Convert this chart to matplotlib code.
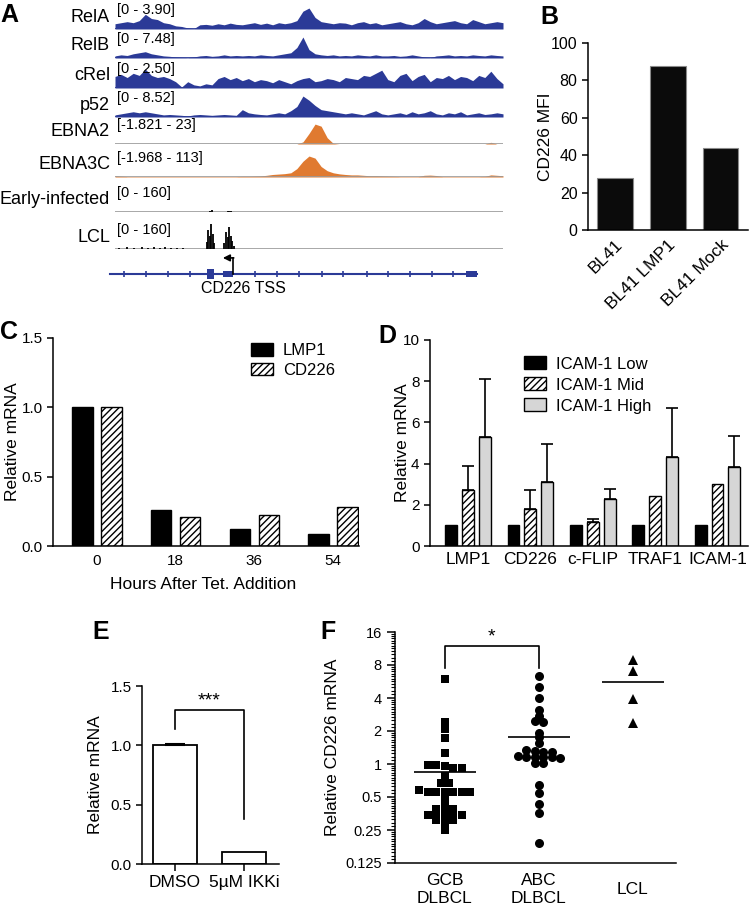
import numpy as np
import matplotlib
matplotlib.use('Agg')
import matplotlib.pyplot as plt
from matplotlib.patches import Patch, Rectangle
from matplotlib.ticker import FixedLocator, NullFormatter

# ---------------- data ----------------
# panel A: genome browser tracks (fraction of track height, 65 bins across locus)
track_names = ['RelA', 'RelB', 'cRel', 'p52', 'EBNA2', 'EBNA3C', 'Early-infected', 'LCL']
track_ranges = ['[0 - 3.90]', '[0 - 7.48]', '[0 - 2.50]', '[0 - 8.52]',
                '[-1.821 - 23]', '[-1.968 - 113]', '[0 - 160]', '[0 - 160]']
relA = [0.25, 0.3, 0.35, 0.3, 0.4, 0.7, 0.5, 0.45, 0.3, 0.25,
        0.15, 0.12, 0.05, 0.02, 0.2, 0.22, 0.18, 0.25, 0.2, 0.28, 0.22,
        0.2, 0.25, 0.3, 0.22, 0.28, 0.2, 0.3, 0.25, 0.3, 0.4,
        0.85, 1.0, 0.55,
        0.35, 0.3, 0.25, 0.3, 0.28, 0.2, 0.3, 0.35, 0.25, 0.3, 0.2,
        0.25, 0.3, 0.35, 0.25, 0.2, 0.3, 0.5, 0.35, 0.25, 0.3,
        0.35, 0.4, 0.3, 0.25, 0.45, 0.35, 0.25, 0.3, 0.35, 0.3]
relB = [0.1, 0.15, 0.12, 0.2, 0.25, 0.3, 0.2, 0.15, 0.1, 0.08,
        0.05, 0.03, 0.02, 0.05, 0.1, 0.12, 0.08, 0.1, 0.15, 0.1, 0.12,
        0.1, 0.12, 0.1, 0.15, 0.12, 0.1, 0.15, 0.2, 0.25,
        0.5, 1.0, 0.4, 0.2,
        0.15, 0.12, 0.15, 0.1, 0.12, 0.1, 0.15, 0.12, 0.1, 0.15, 0.1,
        0.1, 0.12, 0.08, 0.1, 0.15, 0.1, 0.05, 0.02, 0.1, 0.12,
        0.15, 0.1, 0.12, 0.1, 0.15, 0.12, 0.1, 0.15, 0.12, 0.1]
cRel = [0.55, 0.65, 0.5, 0.7, 0.6, 0.9, 0.6, 0.5, 0.55, 0.45,
        0.3, 0.05, 0.3, 0.15, 0.1, 0.2, 0.15, 0.45, 0.55, 0.4, 0.5,
        0.35, 0.45, 0.3, 0.4, 0.35, 0.25, 0.4, 0.3, 0.2, 0.35,
        0.45, 0.5, 0.3, 0.35, 0.45, 0.4, 0.3, 0.5, 0.45, 0.4, 0.6, 0.55, 0.7, 0.85,
        0.4, 0.3, 0.6, 0.7, 0.35, 0.55, 0.65, 0.3, 0.5, 0.45,
        0.6, 0.4, 0.55, 0.5, 0.35, 0.6, 0.5, 0.8, 0.45, 0.2]
p52 = [0.1, 0.15, 0.2, 0.25, 0.2, 0.25, 0.2, 0.15, 0.1, 0.12,
       0.1, 0.08, 0.05, 0.1, 0.12, 0.1, 0.08, 0.1, 0.12, 0.1, 0.08,
       0.35, 0.2, 0.15, 0.12, 0.1, 0.15, 0.2, 0.15, 0.3, 0.5,
       1.0, 0.8, 0.55,
       0.35, 0.3, 0.25, 0.2, 0.15, 0.2, 0.15, 0.1, 0.2, 0.3, 0.15,
       0.1, 0.15, 0.2, 0.12, 0.25, 0.15, 0.2, 0.3, 0.15, 0.1,
       0.2, 0.15, 0.25, 0.1, 0.15, 0.2, 0.12, 0.15, 0.2, 0.15]
ebna2 = [0, 0, 0, 0, 0, 0, 0, 0, 0, 0,
         0, 0, 0, 0, 0, 0, 0, 0, 0, 0,
         0, 0, 0, 0, 0, 0, 0, 0, 0, 0,
         0, 0.1, 0.5, 0.95, 0.85, 0.3, 0.03, 0, 0, 0,
         0, 0, 0, 0, 0, 0, 0, 0, 0, 0,
         0, 0, 0, 0, 0, 0, 0, 0, 0, 0,
         0, 0, 0.08, 0, 0]
ebna3c = [0.06, 0.04, 0.02, 0.02, 0.02, 0.02, 0.02, 0.02, 0.02, 0.02,
          0.02, 0.02, 0.02, 0.02, 0.02, 0.02, 0.02, 0.02, 0.02, 0.02,
          0.02, 0.03, 0.03, 0.04, 0.05, 0.08, 0.12, 0.14, 0.16, 0.2,
          0.4, 0.75, 1.0, 0.9, 0.5, 0.3, 0.2, 0.15, 0.12, 0.1,
          0.1, 0.08, 0.06, 0.06, 0.05, 0.04, 0.03, 0.02, 0.02, 0.02,
          0.02, 0.08, 0.09, 0.07, 0.02, 0.02, 0.02, 0.02, 0.02, 0.02,
          0.02, 0.03, 0.1, 0.08, 0.06]
# ATAC-like spikes (position along locus 0-1, height)
early_pos = [0.245, 0.25, 0.29, 0.295, 0.30]
early_h = [0.06, 0.08, 0.05, 0.07, 0.05]
lcl_pos = [0.01, 0.03, 0.05, 0.07, 0.085, 0.10, 0.115, 0.13, 0.145, 0.16, 0.175,
           0.236, 0.240, 0.244, 0.248, 0.252, 0.256,
           0.282, 0.286, 0.290, 0.294, 0.298, 0.302, 0.306]
lcl_h = [0.05, 0.08, 0.06, 0.1, 0.07, 0.09, 0.06, 0.08, 0.05, 0.06, 0.04,
         0.35, 0.9, 0.6, 1.2, 0.7, 0.3,
         0.3, 0.8, 0.55, 1.05, 0.6, 0.4, 0.15]
# gene model (locus fraction; exon = start, end, relative thickness)
gene_span = (-0.013, 0.933)
gene_exons = [(0.237, 0.255, 0.42), (0.278, 0.304, 0.26), (0.905, 0.933, 0.26)]
gene_marks = [0.023, 0.080, 0.137, 0.193, 0.361, 0.418, 0.474, 0.534,
              0.588, 0.649, 0.704, 0.760, 0.817, 0.871]
tss_pos, tss_tip = 0.304, 0.278

# panel B
cats_b = ['BL41', 'BL41 LMP1', 'BL41 Mock']
mfi_b = [28, 87.5, 44]

# panel C
hours_c = ['0', '18', '36', '54']
lmp1_c = [1.0, 0.26, 0.12, 0.09]
cd226_c = [1.0, 0.21, 0.22, 0.28]

# panel D
genes_d = ['LMP1', 'CD226', 'c-FLIP', 'TRAF1', 'ICAM-1']
low_d = [1.0, 1.0, 1.0, 1.0, 1.0]
mid_d = [2.7, 1.81, 1.16, 2.41, 3.02]
mid_err = [1.16, 0.92, 0.13, 0.0, 0.0]
high_d = [5.28, 3.1, 2.26, 4.33, 3.83]
high_err = [2.82, 1.86, 0.5, 2.37, 1.52]

# panel E
treat_e = ['DMSO', '5\u00b5M IKKi']
rel_e = [1.0, 0.1]
err_e = [0.01, 0.0]

# panel F
groups_f = ['GCB\nDLBCL', 'ABC\nDLBCL', 'LCL']
gcb = [5.93, 2.41, 2.07, 1.74, 1.27, 0.98, 0.98, 0.95, 0.92, 0.92, 0.78,
       0.67, 0.67, 0.58, 0.56, 0.56, 0.56, 0.56, 0.56, 0.56, 0.50, 0.44,
       0.39, 0.39, 0.39, 0.34, 0.34, 0.34, 0.34, 0.34, 0.31, 0.31, 0.31,
       0.28, 0.25]
abc = [6.35, 5.0, 4.0, 3.1, 2.75, 2.45, 2.43, 1.93, 1.75, 1.57, 1.35, 1.32, 1.3,
       1.28, 1.18, 1.16, 1.15, 1.17, 1.14, 1.16, 1.03, 1.02, 0.65, 0.54, 0.43,
       0.36, 0.19]
lcl = [8.9, 7.1, 3.95, 2.36]

# ---------------- figure ----------------
plt.rcParams['font.family'] = ['Liberation Sans Narrow', 'Liberation Sans', 'DejaVu Sans']
plt.rcParams['hatch.linewidth'] = 1.0
plt.rcParams['axes.linewidth'] = 1.1
plt.rcParams['xtick.major.width'] = 1.1
plt.rcParams['ytick.major.width'] = 1.1
plt.rcParams['ytick.major.size'] = 4
plt.rcParams['xtick.major.size'] = 4

W, H = 750, 906
fig = plt.figure(figsize=(7.5, 9.06), dpi=100)
BLUE = '#2b3a97'
ORANGE = '#e07a30'
GRAY = '#9a9a9a'
HATCH = '/////'


def rect(x0, y0, x1, y1):
    return [x0 / W, 1 - y1 / H, (x1 - x0) / W, (y1 - y0) / H]


def clean(ax):
    ax.spines['top'].set_visible(False)
    ax.spines['right'].set_visible(False)


def letter(x, y, s):
    fig.text(x / W, 1 - y / H, s, fontsize=18, fontweight='bold', ha='left', va='top')


# ---- A ----
track_vals = [relA, relB, cRel, p52, ebna2, ebna3c, None, None]
track_base = [29, 58, 88, 117, 144, 177, 212, 249]
for i, name in enumerate(track_names):
    base = track_base[i]
    ax = fig.add_axes(rect(115, base - 26, 503, base))
    ax.set_xlim(0, 1)
    ax.set_ylim(0, 1.24)
    ax.axis('off')
    v = track_vals[i]
    if i < 4:
        x = np.linspace(0, 1, len(v))
        ax.fill_between(x, v, color=BLUE, lw=0)
        ax.plot([0, 1], [0, 0], color=BLUE, lw=1.3)
    elif i < 6:
        x = np.linspace(0, 1, len(v))
        ax.plot([0, 1], [0, 0], color=GRAY, lw=1.2)
        ax.fill_between(x, v, color=ORANGE, lw=0)
    else:
        ax.plot([0, 1], [0, 0], color=GRAY, lw=1.2)
        pos, hh = (early_pos, early_h) if i == 6 else (lcl_pos, lcl_h)
        ax.vlines(pos, 0, hh, color='black', lw=1.3)
    ax.text(0.005, 1.0, track_ranges[i], transform=ax.transAxes, va='top',
            ha='left', fontsize=10.5)
    fig.text(110 / W, 1 - (base - 12) / H, name, ha='right', va='center', fontsize=13)

axg = fig.add_axes(rect(115, 250, 503, 298))
axg.set_xlim(0, 1)
axg.set_ylim(-1, 1)
axg.axis('off')
axg.plot(gene_span, [0, 0], color=BLUE, lw=1.5, clip_on=False)
for x0, x1, hh in gene_exons:
    axg.add_patch(Rectangle((x0, -hh / 2), x1 - x0, hh, color=BLUE, lw=0, clip_on=False))
axg.plot(gene_marks, [0] * len(gene_marks), ls='none', marker='|', ms=4, mew=1.2, color=BLUE)
axg.plot([tss_pos, tss_pos], [0, 0.67], color='black', lw=1.2)
axg.annotate('', xy=(tss_tip, 0.67), xytext=(tss_pos + 0.002, 0.67),
             arrowprops=dict(arrowstyle='-|>', color='black', lw=1.2,
                             mutation_scale=10, shrinkA=0, shrinkB=0))
axg.text(0.33, -0.6, 'CD226 TSS', ha='center', va='center', fontsize=11.5)
letter(0, 3, 'A')

# ---- B ----
ax = fig.add_axes(rect(588, 43, 748, 230))
clean(ax)
ax.bar(range(len(cats_b)), mfi_b, width=0.68, color='#0b0b0b', edgecolor='#8a8a8a', lw=0.8)
ax.set_xlim(-0.51, 2.52)
ax.set_ylim(0, 100)
ax.set_yticks([0, 20, 40, 60, 80, 100])
ax.set_xticks(range(len(cats_b)))
ax.set_xticklabels(cats_b, rotation=45, ha='right', rotation_mode='anchor', fontsize=12.5)
ax.tick_params(axis='x', length=0, pad=5)
ax.tick_params(axis='y', labelsize=11.5)
ax.set_ylabel('CD226 MFI', fontsize=12.5)
ax.yaxis.set_label_coords(-0.219, 0.5)
letter(540, 5, 'B')

# ---- C ----
ax = fig.add_axes(rect(53, 338, 359, 546))
clean(ax)
xc = np.arange(len(hours_c))
ax.bar(xc - 0.184, lmp1_c, 0.26, color='black', edgecolor='black', lw=1)
ax.bar(xc + 0.184, cd226_c, 0.26, color='white', edgecolor='black', hatch=HATCH, lw=1)
ax.set_xlim(-0.56, 3.33)
ax.set_ylim(0, 1.5)
ax.set_yticks([0, 0.5, 1.0, 1.5])
ax.set_yticklabels(['0.0', '0.5', '1.0', '1.5'])
ax.set_xticks(xc)
ax.set_xticklabels(hours_c)
ax.tick_params(axis='x', length=0, labelsize=11, pad=6)
ax.tick_params(axis='y', labelsize=11)
ax.set_ylabel('Relative mRNA', fontsize=12.5)
ax.yaxis.set_label_coords(-0.108, 0.5)
ax.set_xlabel('Hours After Tet. Addition', fontsize=12.5)
ax.xaxis.set_label_coords(0.49, -0.15)
hc = [Patch(facecolor='black', edgecolor='black'),
      Patch(facecolor='white', edgecolor='black', hatch=HATCH)]
ax.legend(hc, ['LMP1', 'CD226'], loc='upper left', bbox_to_anchor=(0.647, 0.975),
          frameon=False, fontsize=12, handlelength=1.3, handleheight=0.8,
          handletextpad=0.6, labelspacing=0.25, borderpad=0, borderaxespad=0)
letter(0, 320, 'C')

# ---- D ----
ax = fig.add_axes(rect(430, 340, 748, 546))
clean(ax)
xd = np.arange(len(genes_d))
ax.bar(xd - 0.27, low_d, 0.19, color='black', edgecolor='black', lw=1)
ax.bar(xd, mid_d, 0.19, color='white', edgecolor='black', hatch=HATCH, lw=1)
ax.bar(xd + 0.27, high_d, 0.19, color='#d6d6d6', edgecolor='black', lw=1)
mi = [i for i, e in enumerate(mid_err) if e > 0]
ax.errorbar(xd[mi], [mid_d[i] for i in mi], yerr=[[0] * len(mi), [mid_err[i] for i in mi]],
            fmt='none', ecolor='black', elinewidth=1.2, capsize=4, capthick=1.2)
ax.errorbar(xd + 0.27, high_d, yerr=[[0] * len(high_d), high_err],
            fmt='none', ecolor='black', elinewidth=1.2, capsize=4, capthick=1.2)
ax.set_xlim(-0.61, 4.49)
ax.set_ylim(0, 10)
ax.set_yticks([0, 2, 4, 6, 8, 10])
ax.set_xticks(xd)
ax.set_xticklabels(genes_d)
ax.tick_params(axis='x', length=0, labelsize=12.5, pad=4)
ax.tick_params(axis='y', labelsize=11)
ax.set_ylabel('Relative mRNA', fontsize=12.5)
ax.yaxis.set_label_coords(-0.063, 0.5)
hd = [Patch(facecolor='black', edgecolor='black'),
      Patch(facecolor='white', edgecolor='black', hatch=HATCH),
      Patch(facecolor='#d6d6d6', edgecolor='black')]
ax.legend(hd, ['ICAM-1 Low', 'ICAM-1 Mid', 'ICAM-1 High'], loc='upper left',
          bbox_to_anchor=(0.296, 0.92), frameon=False, fontsize=12,
          handlelength=1.3, handleheight=0.8, handletextpad=0.6,
          labelspacing=0.35, borderpad=0, borderaxespad=0)
letter(378, 324, 'D')

# ---- E ----
ax = fig.add_axes(rect(142, 686, 279, 864))
clean(ax)
xe = np.arange(len(treat_e))
ax.bar(xe, rel_e, 0.65, color='white', edgecolor='black', lw=1.3)
ax.errorbar(xe[:1], rel_e[:1], yerr=[[0], err_e[:1]], fmt='none', ecolor='black',
            elinewidth=1.2, capsize=7, capthick=1.5)
ax.plot([0, 0, 1, 1], [1.14, 1.3, 1.3, 0.38], color='black', lw=1.2)
ax.text(0.5, 1.37, '***', ha='center', va='center', fontsize=14)
ax.set_xlim(-0.48, 1.51)
ax.set_ylim(0, 1.5)
ax.set_yticks([0, 0.5, 1.0, 1.5])
ax.set_yticklabels(['0.0', '0.5', '1.0', '1.5'])
ax.set_xticks(xe)
ax.set_xticklabels(treat_e)
ax.tick_params(axis='x', length=5, labelsize=12.5, pad=3)
ax.tick_params(axis='y', labelsize=11)
ax.set_ylabel('Relative mRNA', fontsize=12.5)
ax.yaxis.set_label_coords(-0.285, 0.5)
letter(92, 620, 'E')

# ---- F ----
PX_UNIT = 94.0      # pixels per category
PX_DOUBLE = 33.0    # pixels per doubling
D_PX = 8.5          # marker spacing in pixels
ROW_PX = 3.2        # points closer than this share a row


def scatter_rows(vals):
    # column scatter: bin into rows, centre each row
    y = np.log2(np.asarray(vals)) * PX_DOUBLE
    order = np.argsort(-y, kind='stable')
    offs = np.zeros(len(vals))
    rows, cur = [], [order[0]]
    for i in order[1:]:
        if y[cur[0]] - y[i] <= ROW_PX:
            cur.append(i)
        else:
            rows.append(cur)
            cur = [i]
    rows.append(cur)
    for r in rows:
        n = len(r)
        for j, i in enumerate(r):
            offs[i] = (j - (n - 1) / 2) * D_PX
    return offs / PX_UNIT


ax = fig.add_axes(rect(395, 632, 676, 863))
clean(ax)
ax.set_yscale('log', base=2)
for i, (vals, mk, ms) in enumerate([(gcb, 's', 6.2), (abc, 'o', 6.5), (lcl, '^', 6.5)]):
    ax.plot(i + scatter_rows(vals), vals, ls='none', marker=mk, ms=ms, color='black', mew=0)
    ax.hlines(np.mean(vals), i - 0.33, i + 0.33, color='black', lw=1.2)
ax.plot([0, 0, 1, 1], [7.5, 11.9, 11.9, 7.5], color='black', lw=1.2)
ax.text(0.5, 14.3, '*', ha='center', va='center', fontsize=14)
ax.set_xlim(-0.53, 2.46)
ax.set_ylim(0.125, 16)
fticks = [0.125, 0.25, 0.5, 1, 2, 4, 8, 16]
ax.yaxis.set_major_locator(FixedLocator(fticks))
ax.set_yticklabels(['0.125', '0.25', '0.5', '1', '2', '4', '8', '16'])
ax.yaxis.set_minor_locator(FixedLocator([2.0 ** k * (1 + j / 12) for k in range(-3, 4) for j in range(1, 12)]))
ax.yaxis.set_minor_formatter(NullFormatter())
ax.tick_params(axis='y', which='major', length=6, labelsize=10.5)
ax.tick_params(axis='y', which='minor', length=3, width=0.8)
ax.set_xticks(range(len(groups_f)))
ax.set_xticklabels(groups_f, va='center', fontsize=12.5)
ax.tick_params(axis='x', length=0, pad=19)
ax.set_ylabel('Relative CD226 mRNA', fontsize=12.5)
ax.yaxis.set_label_coords(-0.196, 0.5)
letter(320, 620, 'F')

fig.savefig('out.png', dpi=100)
